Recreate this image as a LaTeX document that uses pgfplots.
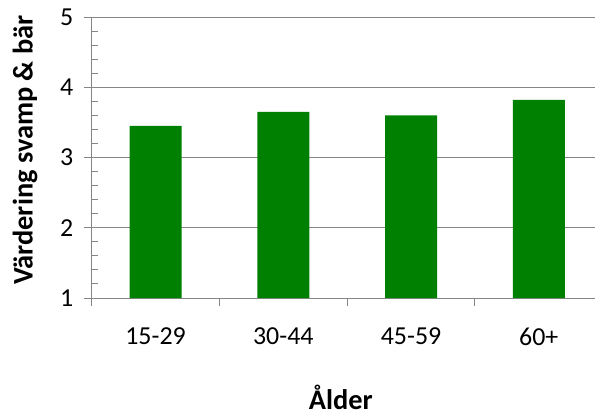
\documentclass[border=0pt]{standalone}
\usepackage{pgfplots}
\pgfplotsset{compat=1.18}
\usepackage{fontspec}
\setmainfont{Carlito}
\usetikzlibrary{calc}
\definecolor{barGreen}{RGB}{0,128,0}
\definecolor{axGray}{RGB}{134,134,134}
\begin{document}
\begin{tikzpicture}
\begin{axis}[
  name=ax,
  scale only axis=true,
  width=503.3bp, height=281bp,
  xmin=-0.5, xmax=3.44,
  ymin=1, ymax=5,
  axis x line=bottom, axis y line=left,
  axis line style={-, draw=axGray, line width=1bp},
  ytick={1,2,3,4,5},
  minor y tick num=4,
  xtick={-0.5,0.5,1.5,2.5},
  xticklabels={15-29,30-44,45-59,60+},
  tick align=outside,
  major tick length=8bp,
  minor tick length=6bp,
  tick style={draw=axGray, line width=1bp},
  minor y tick style={xshift=6bp},
  ymajorgrids=true,
  grid style={draw=axGray, line width=1bp},
  /pgf/number format/assume math mode=true,
  ticklabel style={font=\fontsize{26}{30}\selectfont, text=black},
  xticklabel style={xshift=63.87bp, yshift=-18bp},
  yticklabel style={xshift=-7bp},
  ylabel={Värdering svamp \& bär},
  xlabel={Ålder},
  label style={font=\bfseries\fontsize{28.5}{32}\selectfont},
  ylabel style={at={(axis description cs:-0.1325,0.527)}, anchor=center, rotate=0},
  xlabel style={at={(axis description cs:0.495,-0.352)}, anchor=center},
  clip=false,
]
\addplot[ybar, bar width=52bp, fill=barGreen, draw=none, bar shift=0pt]
  coordinates {(0,3.45) (1,3.65) (2,3.60) (3,3.82)};
\end{axis}
\pgfresetboundingbox
\path[use as bounding box] ($(ax.south west)+(-91.7bp,-118bp)$) rectangle ($(ax.north east)+(0bp,17bp)$);
\end{tikzpicture}
\end{document}
